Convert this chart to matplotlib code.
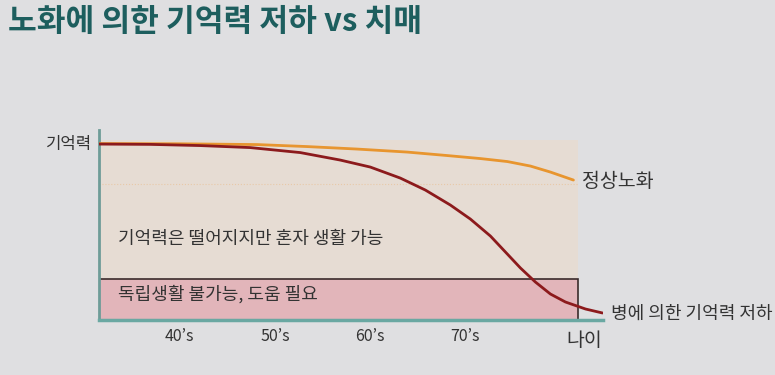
import matplotlib
matplotlib.use("Agg")
import matplotlib.pyplot as plt
from matplotlib.patches import Rectangle

plt.rcParams['font.family'] = ['Noto Sans CJK KR', 'DejaVu Sans']

# ---- data ----
title = "노화에 의한 기억력 저하 vs 치매"
tick_ages = [40, 50, 60, 70]
tick_labels = ["40’s", "50’s", "60’s", "70’s"]

normal_age = [31.5, 39.71, 48.13, 53.39, 58.66, 63.92, 68.13, 71.61, 74.45, 76.87, 78.97, 81.39]
normal_mem = [100.28, 100.17, 99.72, 98.58, 97.16, 95.45, 93.47, 91.76, 90.06, 87.5, 84.09, 79.55]

disease_age = [31.5, 36.87, 42.13, 47.39, 52.66, 56.87, 60.03, 63.18, 65.82, 68.45,
               70.55, 72.66, 74.24, 75.82, 77.39, 78.97, 80.55, 82.66, 84.45]
disease_mem = [100.0, 99.83, 99.15, 98.01, 95.17, 90.91, 86.93, 80.68, 73.86, 65.34,
               57.39, 47.73, 38.64, 29.55, 21.59, 14.77, 10.23, 6.25, 3.98]

zone_left, zone_right = 31.5, 81.9
zone_top = 102.3
dependent_top = 23.3
mild_line = 77.3

# ---- figure ----
bg = "#dfdfe1"
fig = plt.figure(figsize=(7.75, 3.75), dpi=100, facecolor=bg)
W, H = 775, 375
ax = fig.add_axes([99 / W, 1 - 320 / H, (603 - 99) / W, (320 - 130) / H])
ax.set_facecolor("none")
ax.set_xlim(31.5, 84.5)
ax.set_ylim(0, 108)

for s in ["top", "right"]:
    ax.spines[s].set_visible(False)
ax.spines["left"].set_color("#6e9c98")
ax.spines["left"].set_linewidth(2)
ax.spines["bottom"].set_color("#6aa8a2")
ax.spines["bottom"].set_linewidth(2.5)

ax.add_patch(Rectangle((zone_left, 0), zone_right - zone_left, zone_top,
                       facecolor="#e6dcd3", edgecolor="none", zorder=0))
ax.add_patch(Rectangle((zone_left, 0), zone_right - zone_left, dependent_top,
                       facecolor="#e2b5ba", edgecolor="#3b2b2b", linewidth=1.2, zorder=1))
ax.plot([zone_left, zone_right], [mild_line, mild_line], color="#e8c9a8",
        linestyle=":", linewidth=0.8, zorder=1)

ax.plot(normal_age, normal_mem, color="#e8952e", linewidth=2, zorder=3,
        solid_capstyle="round", solid_joinstyle="round")
ax.plot(disease_age, disease_mem, color="#8c1a1c", linewidth=2, zorder=4,
        solid_capstyle="round", solid_joinstyle="round")

ax.set_xticks(tick_ages)
ax.set_xticklabels(tick_labels, fontsize=11.5, color="#333333")
ax.tick_params(axis="x", length=0, pad=6)
ax.set_yticks([])

txt = dict(color="#333333")
ax.text(82.5, -11.5, "나이", fontsize=14, ha="center", va="center", clip_on=False, **txt)
ax.text(30.8, 100, "기억력", fontsize=12, ha="right", va="center", **txt)
ax.text(82.3, 79, "정상노화", fontsize=14, ha="left", va="center", **txt)
ax.text(85.3, 3.5, "병에 의한 기억력 저하", fontsize=13, ha="left",
        va="center", clip_on=False, **txt)
ax.text(33.5, 46, "기억력은 떨어지지만 혼자 생활 가능", fontsize=13,
        ha="left", va="center", zorder=5, **txt)
ax.text(33.5, 14.5, "독립생활 불가능, 도움 필요", fontsize=13,
        ha="left", va="center", zorder=5, **txt)

fig.text(8 / W, 1 - 22 / H, title, fontsize=22.5, fontweight="bold", color="#1d5e5e",
         ha="left", va="center")

fig.savefig("out.png", dpi=100, facecolor=bg)
